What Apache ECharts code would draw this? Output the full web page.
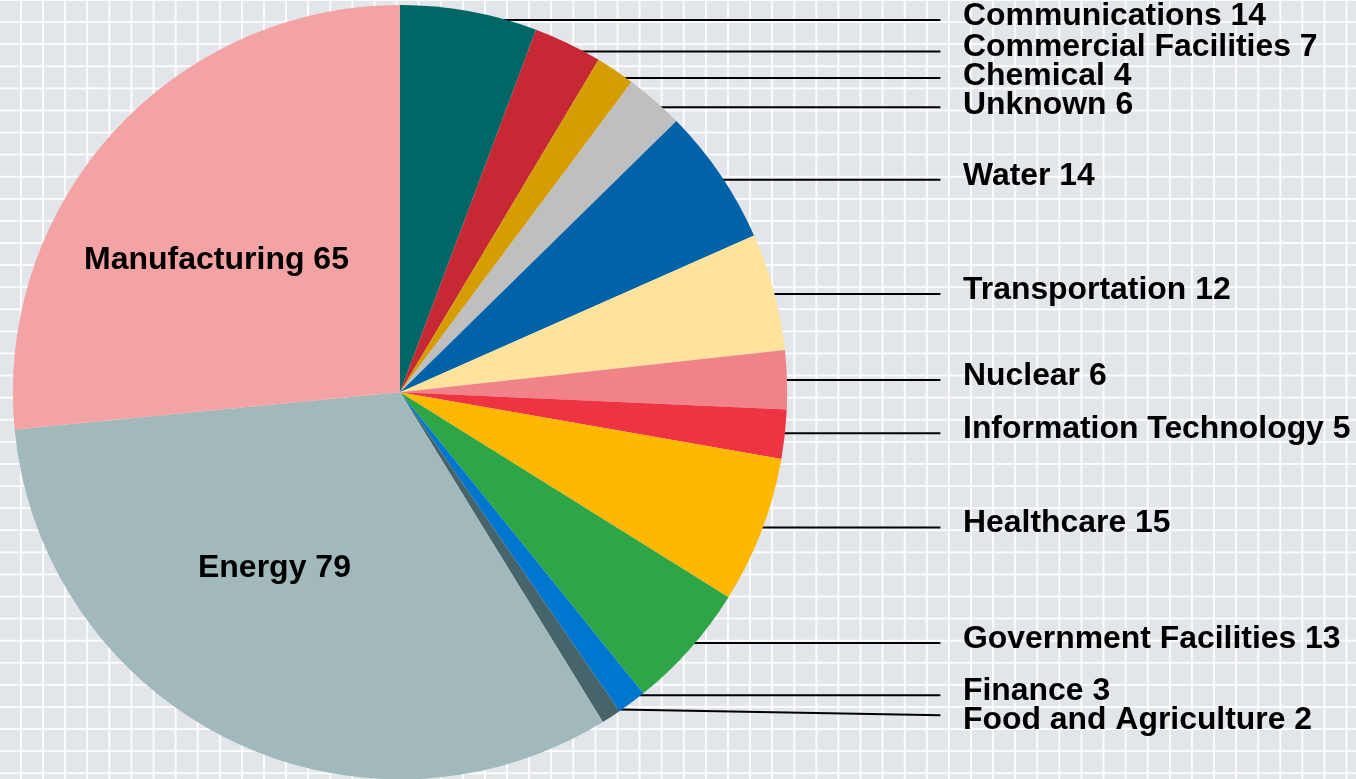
<!DOCTYPE html>
<html>
<head>
<meta charset="utf-8">
<script src="https://cdn.jsdelivr.net/npm/echarts@6/dist/echarts.min.js"></script>
<style>
html, body { margin: 0; padding: 0; width: 1356px; height: 779px; overflow: hidden; }
#chart {
  width: 1356px; height: 779px;
  background-color: #e2e5e9;
  background-image:
    linear-gradient(to right, rgba(255,255,255,0.9) 0, rgba(255,255,255,0.9) 2px, transparent 2px),
    linear-gradient(to bottom, rgba(255,255,255,0.9) 0, rgba(255,255,255,0.9) 2px, transparent 2px);
  background-size: 22.1px 22.1px;
  background-position: 20px -1px;
}
</style>
</head>
<body>
<div id="chart"></div>
<script>
// ---- data (clockwise from 12 o'clock) ----
const categories = [
  'Communications', 'Commercial Facilities', 'Chemical', 'Unknown', 'Water',
  'Transportation', 'Nuclear', 'Information Technology', 'Healthcare',
  'Government Facilities', 'Finance', 'Food and Agriculture', 'Energy', 'Manufacturing'
];
const values = [14, 7, 4, 6, 14, 12, 6, 5, 15, 13, 3, 2, 79, 65];
const sliceColors = [
  '#006666', '#c62834', '#d59d00', '#bfbfbf', '#0062a8',
  '#ffe29b', '#f2828a', '#ee3342', '#ffb800',
  '#2ea547', '#0077cf', '#46646a', '#a1b9ba', '#f4a3a5'
];
const insideLabels = ['Energy', 'Manufacturing'];

// ---- font selection (narrow bold face for outside labels if available) ----
function hasFont(name) {
  const ctx = document.createElement('canvas').getContext('2d');
  const s = 'Communications 14 WMwmil';
  for (const fb of ['monospace', 'serif']) {
    ctx.font = 'bold 50px ' + fb; const a = ctx.measureText(s).width;
    ctx.font = 'bold 50px "' + name + '", ' + fb; const b = ctx.measureText(s).width;
    if (Math.abs(a - b) > 0.5) return true;
  }
  return false;
}
let outFamily = '"Liberation Sans", Arial, sans-serif';
for (const f of ['Liberation Sans Narrow', 'Arial Narrow']) {
  if (hasFont(f)) { outFamily = '"' + f + '", "Liberation Sans", Arial, sans-serif'; break; }
}
const mctx = document.createElement('canvas').getContext('2d');
mctx.font = 'bold 100px ' + outFamily;
const outSize = Math.round(100 * 303 / mctx.measureText('Communications 14').width * 10) / 10;

const chart = echarts.init(document.getElementById('chart'), null, { renderer: 'canvas' });

const LINE_GAP = 20;   // min spacing of leader-line ends
const LABEL_GAP = 29;  // min spacing of label centres
function outsidePositions() {
  const data = chart.getModel().getSeriesByIndex(0).getData();
  const list = [];
  for (let i = 0; i < data.count(); i++) {
    if (insideLabels.indexOf(categories[i]) >= 0) continue;
    const L = data.getItemLayout(i);
    const mid = (L.startAngle + L.endAngle) / 2;
    const rin = L.r * 0.977;
    list.push({ i: i, x: L.cx + rin * Math.cos(mid), y: L.cy + rin * Math.sin(mid) });
  }
  list.sort((a, b) => a.y - b.y);
  let prevLine = -Infinity, prevLabel = -Infinity;
  const map = {};
  for (const it of list) {
    it.ly = Math.max(it.y, prevLine + LINE_GAP); prevLine = it.ly;
    it.ty = Math.max(it.ly - 4, prevLabel + LABEL_GAP); prevLabel = it.ty;
    map[it.i] = it;
  }
  return map;
}

const seriesData = categories.map((c, i) => {
  const item = { name: c, value: values[i], itemStyle: { color: sliceColors[i] } };
  if (insideLabels.indexOf(c) >= 0) {
    item.label = { position: 'inside', fontFamily: '"Liberation Sans", Arial, sans-serif', fontSize: 32 };
    item.labelLine = { show: false };
  }
  return item;
});

chart.setOption({
  backgroundColor: 'transparent',
  animation: false,
  series: [{
    type: 'pie',
    center: ['29.5%', '50.35%'],
    radius: ['0%', '99.4%'],
    startAngle: 90,
    clockwise: true,
    avoidLabelOverlap: false,
    data: seriesData,
    itemStyle: { borderWidth: 0 },
    emphasis: { disabled: true },
    label: {
      show: true,
      position: 'outside',
      formatter: '{b} {c}',
      color: '#000',
      fontWeight: 'bold',
      fontFamily: outFamily,
      fontSize: outSize
    },
    labelLine: { show: true, length: 10, length2: 10, lineStyle: { color: '#000', width: 2 } },
    labelLayout: function (p) {
      const name = categories[p.dataIndex];
      if (insideLabels.indexOf(name) >= 0) {
        return { dx: -38 };
      }
      const w = chart.getWidth();
      const endX = w * 0.6935;
      const it = outsidePositions()[p.dataIndex];
      if (!it) return {};
      return {
        x: w * 0.7102,
        y: it.ty,
        align: 'left',
        verticalAlign: 'middle',
        labelLinePoints: [[it.x, it.y], [it.x, it.y], [endX, it.ly]]
      };
    }
  }]
});
</script>
</body>
</html>
